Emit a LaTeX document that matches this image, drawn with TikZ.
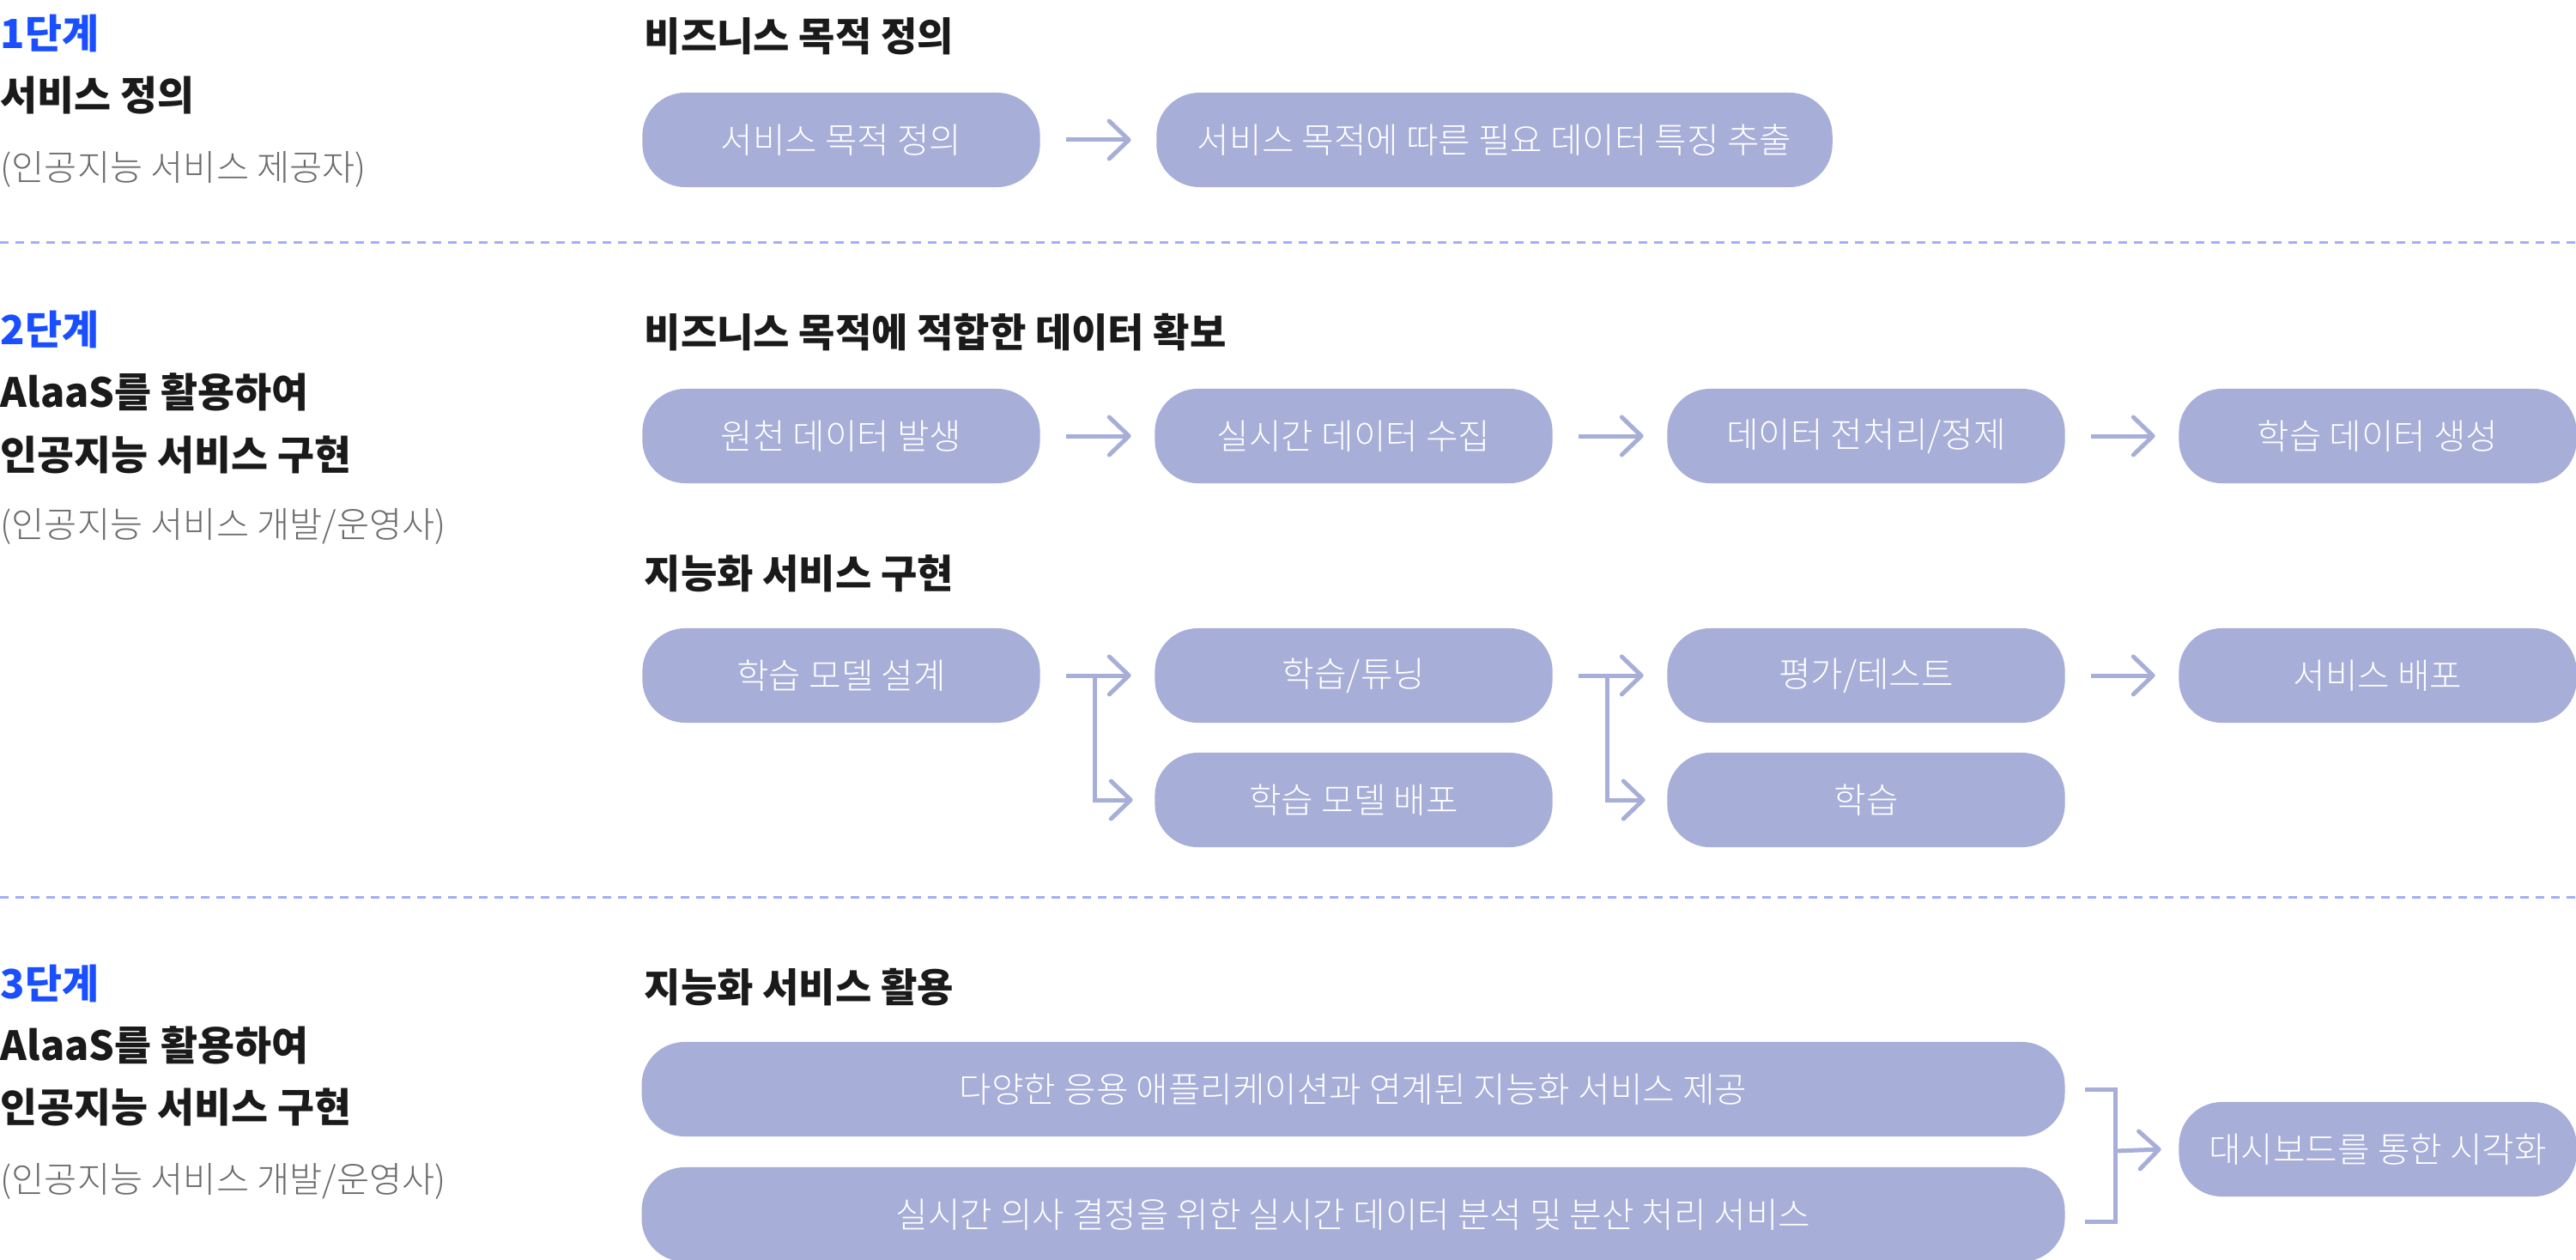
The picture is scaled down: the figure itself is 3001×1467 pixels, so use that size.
\documentclass[tikz,border=0pt]{standalone}
\usepackage{fontspec}
\setmainfont{Noto Sans CJK KR}
\newfontfamily\lightkr{Noto Sans CJK KR Light}
\usetikzlibrary{arrows.meta}
\definecolor{boxc}{HTML}{A7AED7}
\definecolor{stepblue}{HTML}{1A4FFF}
\definecolor{dotc}{HTML}{A3AEF6}
\definecolor{graytxt}{HTML}{6B6B6B}
\definecolor{darktxt}{HTML}{1A1A1A}
\begin{document}
\begin{tikzpicture}[x=0.01cm,y=-0.01cm,
  pill/.style={fill=boxc, rounded corners=0.5cm, minimum width=4.63cm, minimum height=1.1cm,
    inner sep=0pt, text=white, font=\lightkr\fontsize{11.6}{13}\selectfont},
  widepill/.style={pill, minimum width=16.57cm},
  stagelbl/.style={anchor=west, inner sep=0pt, text=stepblue, font=\fontsize{13.3}{15}\selectfont\bfseries},
  titlelbl/.style={anchor=west, inner sep=0pt, text=darktxt, font=\fontsize{13.3}{15}\selectfont\bfseries},
  rolelbl/.style={anchor=west, inner sep=0pt, text=graytxt, font=\lightkr\fontsize{11.8}{13}\selectfont},
  headlbl/.style={anchor=west, inner sep=0pt, text=darktxt, font=\fontsize{13.1}{15}\selectfont\bfseries},
  conn/.style={draw=boxc, line width=0.05cm, line join=miter},
  arr/.style={conn, -{Straight Barb[length=6.5pt,width=12.5pt,line cap=round,line join=round]}},
  sep/.style={draw=dotc, line width=0.03cm, dash pattern=on 0.1cm off 0.08cm}
]
\useasboundingbox (0,0) rectangle (3001,1467);

% separators
\coordinate (s1a) at (0,283); \coordinate (s1b) at (3001,283);
\coordinate (s2a) at (0,1045); \coordinate (s2b) at (3001,1045);
\draw[sep] (s1a) -- (s1b);
\draw[sep] (s2a) -- (s2b);

% left column
\node[stagelbl] (st1) at (0,39) {1단계};
\node[titlelbl] (t1) at (0,111) {서비스 정의};
\node[rolelbl] (r1) at (0,197) {(인공지능 서비스 제공자)};

\node[stagelbl] (st2) at (0,384) {2단계};
\node[titlelbl] (t2a) at (0,457) {AlaaS를 활용하여};
\node[titlelbl] (t2b) at (0,530) {인공지능 서비스 구현};
\node[rolelbl] (r2) at (0,613) {(인공지능 서비스 개발/운영사)};

\node[stagelbl] (st3) at (0,1146) {3단계};
\node[titlelbl] (t3a) at (0,1218) {AlaaS를 활용하여};
\node[titlelbl] (t3b) at (0,1290) {인공지능 서비스 구현};
\node[rolelbl] (r3) at (0,1376) {(인공지능 서비스 개발/운영사)};

% section headings
\node[headlbl] (h1) at (750,42) {비즈니스 목적 정의};
\node[headlbl] (h2) at (750,387) {비즈니스 목적에 적합한 데이터 확보};
\node[headlbl] (h3) at (750,668) {지능화 서비스 구현};
\node[headlbl] (h4) at (750,1150) {지능화 서비스 활용};

% row 1
\node[pill] (a1) at (980,163) {서비스 목적 정의};
\node[pill, minimum width=7.87cm] (a2) at (1741,163) {서비스 목적에 따른 필요 데이터 특징 추출};
\draw[arr] ([xshift=0.3cm]a1.east) -- ([xshift=-0.29cm]a2.west);

% row 2
\node[pill] (b1) at (980,508) {원천 데이터 발생};
\node[pill] (b2) at (1577,508) {실시간 데이터 수집};
\node[pill] (b3) at (2174,508) {데이터 전처리/정제};
\node[pill] (b4) at (2770,508) {학습 데이터 생성};
\draw[arr] ([xshift=0.3cm]b1.east) -- ([xshift=-0.27cm]b2.west);
\draw[arr] ([xshift=0.3cm]b2.east) -- ([xshift=-0.27cm]b3.west);
\draw[arr] ([xshift=0.3cm]b3.east) -- ([xshift=-0.27cm]b4.west);

% row 3
\node[pill] (c1) at (980,787) {학습 모델 설계};
\node[pill] (c2) at (1577,787) {학습/튜닝};
\node[pill] (c3) at (2174,787) {평가/테스트};
\node[pill] (c4) at (2770,787) {서비스 배포};
\node[pill] (c2b) at (1577,932) {학습 모델 배포};
\node[pill] (c3b) at (2174,932) {학습};
\draw[arr] ([xshift=0.3cm]c1.east) -- ([xshift=-0.27cm]c2.west);
\draw[arr] ([xshift=0.63cm]c1.east) |- ([xshift=-0.25cm]c2b.west);
\draw[arr] ([xshift=0.3cm]c2.east) -- ([xshift=-0.27cm]c3.west);
\draw[arr] ([xshift=0.63cm]c2.east) |- ([xshift=-0.25cm]c3b.west);
\draw[arr] ([xshift=0.3cm]c3.east) -- ([xshift=-0.27cm]c4.west);

% row 4
\node[widepill] (w1) at (1576.5,1269) {다양한 응용 애플리케이션과 연계된 지능화 서비스 제공};
\node[widepill] (w2) at (1576.5,1415) {실시간 의사 결정을 위한 실시간 데이터 분석 및 분산 처리 서비스};
\node[pill] (d1) at (2770,1339) {대시보드를 통한 시각화};
\coordinate (bx) at (2464,1341);
\draw[conn] ([xshift=0.23cm]w1.east) -| (bx) |- ([xshift=0.23cm,yshift=-0.08cm]w2.east);
\draw[arr] (bx) -- ([xshift=-0.2cm]d1.west);
\end{tikzpicture}
\end{document}
